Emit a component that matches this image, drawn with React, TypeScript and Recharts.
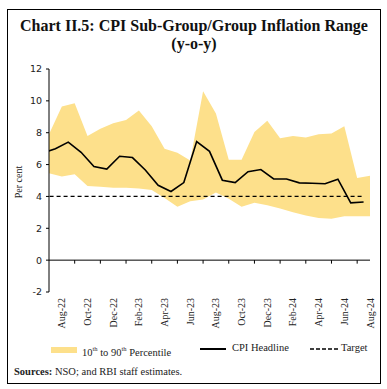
import { Area, ComposedChart, Line, ReferenceLine, XAxis, YAxis } from 'recharts'

const months = [
  'Jul-22', 'Aug-22', 'Sep-22', 'Oct-22', 'Nov-22', 'Dec-22',
  'Jan-23', 'Feb-23', 'Mar-23', 'Apr-23', 'May-23', 'Jun-23',
  'Jul-23', 'Aug-23', 'Sep-23', 'Oct-23', 'Nov-23', 'Dec-23',
  'Jan-24', 'Feb-24', 'Mar-24', 'Apr-24', 'May-24', 'Jun-24',
  'Jul-24', 'Aug-24',
]

// CPI headline inflation, y-o-y per cent
const cpiHeadline = [
  6.71, 7.0, 7.41, 6.77, 5.88, 5.72,
  6.52, 6.44, 5.66, 4.7, 4.31, 4.87,
  7.44, 6.83, 5.02, 4.87, 5.55, 5.69,
  5.1, 5.09, 4.85, 4.83, 4.8, 5.08,
  3.6, 3.65,
]

// 10th and 90th percentile of sub-group/group inflation
const p10 = [
  5.45, 5.25, 5.4, 4.65, 4.6, 4.55,
  4.55, 4.5, 4.4, 3.9, 3.35, 3.7,
  3.8, 4.25, 3.85, 3.35, 3.6, 3.45,
  3.25, 3.0, 2.8, 2.65, 2.6, 2.75,
  2.75, 2.75,
]
const p90 = [
  7.9, 9.65, 9.85, 7.8, 8.25, 8.6,
  8.8, 9.4, 8.4, 7.0, 6.75, 6.25,
  10.6, 9.2, 6.3, 6.3, 8.05, 8.75,
  7.65, 7.8, 7.7, 7.9, 7.95, 8.4,
  5.15, 5.3,
]

const targetRate = 4
const yTicks = [-2, 0, 2, 4, 6, 8, 10, 12]

const areaData = months.map((m, i) => ({ idx: i, month: m, range: [p10[i], p90[i]] }))
// the line series sit half a month to the left of the band, as in the original
const lineData = months.map((m, i) => ({ idx: i - 0.5, month: m, cpi: cpiHeadline[i], target: targetRate }))

const labelTicks = months.map((_, i) => i).filter((i) => i % 2 === 1)
const markTicks = months.map((_, i) => i).filter((i) => i > 0 && i % 2 === 0 && i < months.length - 1)

const SERIF = '"Liberation Serif", "Times New Roman", serif'
const BAND = '#FDE08B'

function MonthTick(props: any) {
  const { x, y, payload } = props
  return (
    <text
      x={0}
      y={0}
      transform={`translate(${x},${y + 6}) rotate(-90)`}
      textAnchor="end"
      dy="0.35em"
      fontSize={10}
      fontFamily={SERIF}
      fill="#222"
    >
      {months[payload.value]}
    </text>
  )
}

export default function App() {
  return (
    <div style={{ position: 'absolute', left: 0, top: 0, width: 387, height: 389, background: '#fff', fontFamily: SERIF }}>
      <div
        style={{
          position: 'absolute',
          left: 7,
          top: 9,
          width: 374,
          height: 375,
          border: '1px solid #000',
          boxSizing: 'border-box',
        }}
      />
      <div
        style={{
          position: 'absolute',
          left: 7,
          top: 17,
          width: 374,
          textAlign: 'center',
          fontWeight: 'bold',
          fontSize: 16,
          lineHeight: '18px',
          color: '#111',
        }}
      >
        Chart II.5: CPI Sub-Group/Group Inflation Range
        <br />
        (y-o-y)
      </div>

      <div style={{ position: 'absolute', left: 0, top: 0 }}>
        <ComposedChart width={387} height={389} margin={{ top: 69, right: 17, bottom: 0, left: 0 }}>
          <XAxis
            type="number"
            dataKey="idx"
            domain={[0, 25]}
            allowDataOverflow
            ticks={labelTicks}
            interval={0}
            tick={<MonthTick />}
            tickLine={false}
            axisLine={false}
            tickSize={0}
            tickMargin={0}
            height={97}
          />
          <YAxis
            type="number"
            domain={[-2, 12]}
            ticks={yTicks}
            interval={0}
            width={49}
            tickSize={3}
            tickMargin={4}
            axisLine={{ stroke: '#000' }}
            tickLine={{ stroke: '#000' }}
            tick={{ fontSize: 9.5, fill: '#222', fontFamily: '"DejaVu Sans", sans-serif' }}
          />
          <Area
            data={areaData}
            dataKey="range"
            type="linear"
            fill={BAND}
            fillOpacity={1}
            stroke="none"
            isAnimationActive={false}
          />
          <ReferenceLine y={0} stroke="#000" />
          {markTicks.map((i) => (
            <ReferenceLine
              key={i}
              segment={[
                { x: i, y: 0 },
                { x: i, y: -0.22 },
              ]}
              stroke="#000"
            />
          ))}
          <Line
            data={lineData}
            dataKey="target"
            type="linear"
            stroke="#000"
            strokeWidth={1.2}
            strokeDasharray="4 3"
            dot={false}
            activeDot={false}
            isAnimationActive={false}
          />
          <Line
            data={lineData}
            dataKey="cpi"
            type="linear"
            stroke="#000"
            strokeWidth={1.6}
            dot={false}
            activeDot={false}
            isAnimationActive={false}
          />
        </ComposedChart>
      </div>

      <div
        style={{
          position: 'absolute',
          left: 18,
          top: 182,
          transform: 'translate(-50%, -50%) rotate(-90deg)',
          fontSize: 10,
          whiteSpace: 'nowrap',
          color: '#222',
        }}
      >
        Per cent
      </div>

      {/* legend */}
      <div style={{ position: 'absolute', left: 51, top: 347, width: 26, height: 6, background: BAND }} />
      <div style={{ position: 'absolute', left: 82, top: 342, fontSize: 10.5, lineHeight: '14px', color: '#222', whiteSpace: 'nowrap' }}>
        10<sup style={{ fontSize: 6.5 }}>th</sup> to 90<sup style={{ fontSize: 6.5 }}>th</sup> Percentile
      </div>
      <div style={{ position: 'absolute', left: 200, top: 348, width: 26, height: 2, background: '#000' }} />
      <div style={{ position: 'absolute', left: 232, top: 341, fontSize: 10.5, lineHeight: '14px', color: '#222', whiteSpace: 'nowrap' }}>
        CPI Headline
      </div>
      <svg style={{ position: 'absolute', left: 310, top: 347 }} width={28} height={4}>
        <line x1={0} y1={2} x2={28} y2={2} stroke="#000" strokeWidth={1.5} strokeDasharray="4 2" />
      </svg>
      <div style={{ position: 'absolute', left: 341, top: 341, fontSize: 10.5, lineHeight: '14px', color: '#222', whiteSpace: 'nowrap' }}>
        Target
      </div>

      <div style={{ position: 'absolute', left: 14, top: 365, fontSize: 10.5, lineHeight: '13px', color: '#222', whiteSpace: 'nowrap' }}>
        <b>Sources:</b> NSO; and RBI staff estimates.
      </div>
    </div>
  )
}
